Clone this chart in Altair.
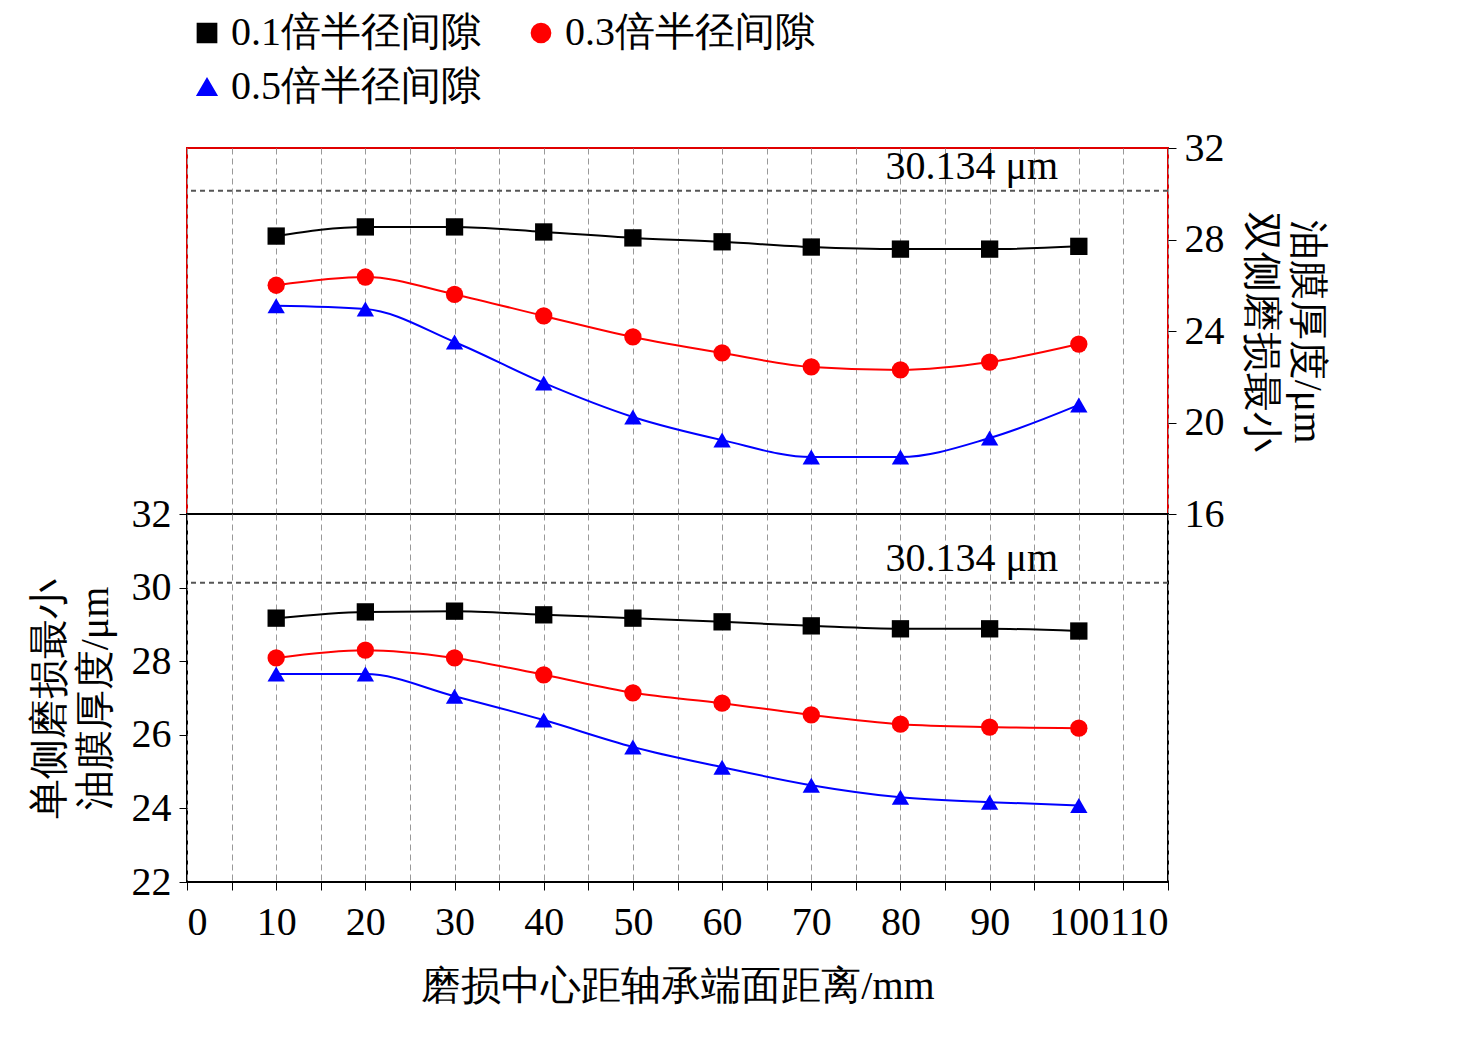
import altair as alt
import pandas as pd

xs = [10, 20, 30, 40, 50, 60, 70, 80, 90, 100]
series = ["0.1倍半径间隙", "0.3倍半径间隙", "0.5倍半径间隙"]

# top panel: two-sided wear
top_01 = [28.15, 28.55, 28.55, 28.33, 28.07, 27.9, 27.67, 27.58, 27.58, 27.7]
top_03 = [26.0, 26.36, 25.6, 24.66, 23.74, 23.04, 22.43, 22.3, 22.64, 23.43]
top_05 = [25.1, 24.96, 23.52, 21.73, 20.24, 19.23, 18.49, 18.49, 19.32, 20.77]

# bottom panel: one-sided wear
bot_01 = [29.17, 29.34, 29.36, 29.26, 29.17, 29.07, 28.96, 28.88, 28.88, 28.82]
bot_03 = [28.09, 28.3, 28.09, 27.63, 27.14, 26.86, 26.54, 26.29, 26.21, 26.18]
bot_05 = [27.65, 27.65, 27.05, 26.4, 25.67, 25.12, 24.63, 24.3, 24.17, 24.08]

ref_value = 30.134
FONT = "Liberation Serif"


def long_df(vals):
    rows = []
    for name, ys in zip(series, vals):
        for x, y in zip(xs, ys):
            rows.append({"x": x, "y": y, "series": name})
    return pd.DataFrame(rows)


df_top = long_df([top_01, top_03, top_05])
df_bot = long_df([bot_01, bot_03, bot_05])
df_ref = pd.DataFrame({"x": [88], "y": [ref_value], "label": ["30.134 μm"]})

color = alt.Scale(domain=series, range=["black", "red", "blue"])
shape = alt.Scale(domain=series, range=["square", "circle", "triangle-up"])
x_values = list(range(0, 115, 5))

legend = alt.Legend(
    orient="top", columns=2, title=None, labelFontSize=40, labelFont=FONT,
    symbolSize=350, symbolStrokeWidth=2, columnPadding=40, rowPadding=14,
    labelLimit=400, offset=20, symbolFillColor="black",
)


def panel(df, y_axis, y_domain, show_x, height):
    x_axis = alt.Axis(
        values=x_values, grid=True, gridDash=[6, 4], gridColor="#999",
        labels=show_x, ticks=show_x, domain=False,
        title="磨损中心距轴承端面距离/mm" if show_x else None,
        labelExpr="datum.value % 10 == 0 ? datum.label : ''",
        labelFontSize=40, titleFontSize=40, labelFont=FONT, titleFont=FONT,
        titleFontWeight="normal", labelPadding=12, titlePadding=24,
        tickColor="black", tickSize=8,
    )
    x = alt.X("x:Q", scale=alt.Scale(domain=[0, 110], nice=False), axis=x_axis)
    y = alt.Y("y:Q", scale=alt.Scale(domain=y_domain, nice=False), axis=y_axis)
    base = alt.Chart(df).encode(x=x, y=y)
    line = base.mark_line(interpolate="monotone", strokeWidth=2).encode(
        color=alt.Color("series:N", scale=color, legend=legend)
    )
    pts = base.mark_point(filled=True, size=300, opacity=1).encode(
        color=alt.Color("series:N", scale=color, legend=legend),
        shape=alt.Shape("series:N", scale=shape, legend=legend),
    )
    ref_line = alt.Chart(df_ref).mark_rule(strokeDash=[5, 4], color="#555", strokeWidth=2).encode(y=y)
    ref_text = alt.Chart(df_ref).mark_text(
        font=FONT, fontSize=40, baseline="bottom", dy=-4
    ).encode(x=alt.X("x:Q"), y=alt.Y("y:Q"), text="label:N")
    return alt.layer(ref_line, line, pts, ref_text).properties(width=981, height=height)


top_axis = alt.Axis(
    orient="right", values=[16, 20, 24, 28, 32], grid=False,
    title=["油膜厚度/μm", "双侧磨损最小"], labelFontSize=40, titleFontSize=40,
    labelFont=FONT, titleFont=FONT, titleFontWeight="normal", domain=False,
    tickColor="black", tickSize=8, labelPadding=8, titlePadding=16, titleLineHeight=46,
)
bot_axis = alt.Axis(
    orient="left", values=[22, 24, 26, 28, 30, 32], grid=False,
    title=["单侧磨损最小", "油膜厚度/μm"], labelFontSize=40, titleFontSize=40,
    labelFont=FONT, titleFont=FONT, titleFontWeight="normal", domain=False,
    tickColor="black", tickSize=8, labelPadding=8, titlePadding=16, titleLineHeight=46,
)

top = panel(df_top, top_axis, [16, 32], False, 366).properties(
    view=alt.ViewBackground(stroke="#e00000", strokeWidth=2)
)
bot = panel(df_bot, bot_axis, [22, 32], True, 368).properties(
    view=alt.ViewBackground(stroke="black", strokeWidth=2)
)

chart = (
    alt.vconcat(top, bot, spacing=0, bounds="flush")
    .properties(padding={"left": 20, "top": 5, "right": 5, "bottom": 5})
    .configure(background="white")
)
chart.save("out.html", embed_options={"renderer": "svg", "actions": False})
